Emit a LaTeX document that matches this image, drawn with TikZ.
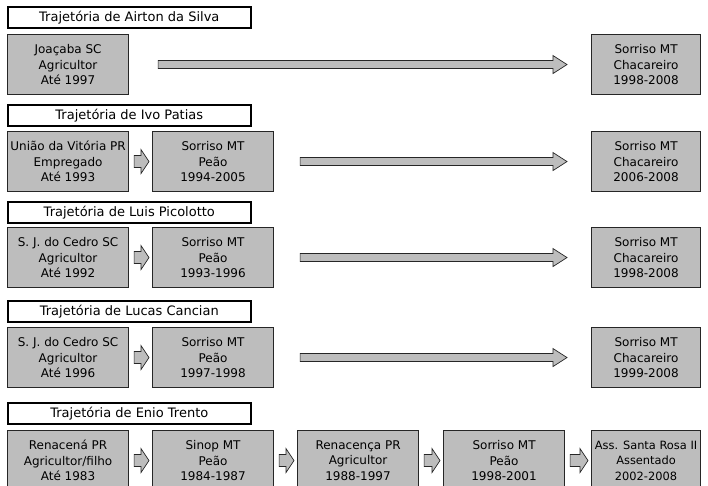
\documentclass[tikz,border=0pt]{standalone}
\usepackage{fontspec}
\setmainfont{DejaVu Sans}
\usetikzlibrary{calc}
\definecolor{boxgray}{HTML}{BDBDBD}
\newcommand\bigarrow[4]{%
  \draw[blockarr] let \p1=($(#1.east)+(#3,0)$), \p2=($(#2.west)+(-#4,0)$) in
  (\x1,\y1+4pt) -- (\x2-14pt,\y1+4pt) -- (\x2-14pt,\y1+9pt) -- (\x2,\y1)
  -- (\x2-14pt,\y1-9pt) -- (\x2-14pt,\y1-4pt) -- (\x1,\y1-4pt) -- cycle;}
\newcommand\smallarrow[2]{%
  \draw[blockarr] let \p1=($(#1.east)+(5,0)$), \p2=($(#2.west)+(-3,0)$) in
  (\x1,\y1+6pt) -- (\x2-8pt,\y1+6pt) -- (\x2-8pt,\y1+12pt) -- (\x2,\y1)
  -- (\x2-8pt,\y1-12pt) -- (\x2-8pt,\y1-6pt) -- (\x1,\y1-6pt) -- cycle;}
\begin{document}
\begin{tikzpicture}[x=1pt,y=-1pt,
  title/.style={draw=black, line width=1.6pt, fill=white, minimum width=243pt,
    minimum height=21pt, inner sep=0pt, anchor=north west,
    font=\fontsize{13}{15}\selectfont},
  stage/.style={draw=black!85, line width=1.1pt, fill=boxgray, minimum width=121pt,
    minimum height=60pt, inner sep=0pt, align=center, anchor=north west,
    font=\fontsize{12}{15.5}\selectfont},
  last/.style={stage, minimum width=109pt},
  blockarr/.style={draw=black!85, line width=0.7pt, fill=boxgray}]
\useasboundingbox (0,0) rectangle (708,486);
\clip (0,0) rectangle (708,486);

% Row 1
\node[title] (t1) at (7,6) {Trajetória de Airton da Silva};
\node[stage] (a1) at (7,34) {Joaçaba SC\\Agricultor\\Até 1997};
\node[last] (a2) at (591,34) {Sorriso MT\\Chacareiro\\1998-2008};
\bigarrow{a1}{a2}{29}{24}

% Row 2
\node[title] (t2) at (7,104) {Trajetória de Ivo Patias};
\node[stage] (b1) at (7,131) {União da Vitória PR\\Empregado\\Até 1993};
\node[stage] (b2) at (152,131) {Sorriso MT\\Peão\\1994-2005};
\node[last] (b3) at (591,131) {Sorriso MT\\Chacareiro\\2006-2008};
\smallarrow{b1}{b2}
\bigarrow{b2}{b3}{26}{24}

% Row 3
\node[title] (t3) at (7,201) {Trajetória de Luis Picolotto};
\node[stage] (c1) at (7,227) {S. J. do Cedro SC\\Agricultor\\Até 1992};
\node[stage] (c2) at (152,227) {Sorriso MT\\Peão\\1993-1996};
\node[last] (c3) at (591,227) {Sorriso MT\\Chacareiro\\1998-2008};
\smallarrow{c1}{c2}
\bigarrow{c2}{c3}{26}{24}

% Row 4
\node[title] (t4) at (7,300) {Trajetória de Lucas Cancian};
\node[stage] (d1) at (7,327) {S. J. do Cedro SC\\Agricultor\\Até 1996};
\node[stage] (d2) at (152,327) {Sorriso MT\\Peão\\1997-1998};
\node[last] (d3) at (591,327) {Sorriso MT\\Chacareiro\\1999-2008};
\smallarrow{d1}{d2}
\bigarrow{d2}{d3}{26}{24}

% Row 5
\node[title] (t5) at (7,402) {Trajetória de Enio Trento};
\node[stage] (e1) at (7,430) {Renacená PR\\Agricultor/filho\\Até 1983};
\node[stage] (e2) at (152,430) {Sinop MT\\Peão\\1984-1987};
\node[stage] (e3) at (297,430) {Renacença PR\\Agricultor\\1988-1997};
\node[stage] (e4) at (443,430) {Sorriso MT\\Peão\\1998-2001};
\node[last, font=\fontsize{11.4}{15.5}\selectfont] (e5) at (591,430) {Ass. Santa Rosa II\\Assentado\\2002-2008};
\smallarrow{e1}{e2}
\smallarrow{e2}{e3}
\smallarrow{e3}{e4}
\smallarrow{e4}{e5}
\end{tikzpicture}
\end{document}
